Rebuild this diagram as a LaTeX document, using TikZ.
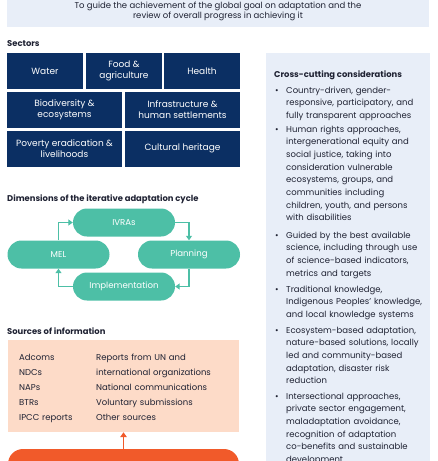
\documentclass[tikz,border=0pt]{standalone}
\usepackage{fontspec}
\setmainfont{Poppins}
\usepackage{tikz}
\usetikzlibrary{arrows.meta,positioning}
\tikzset{>=stealth}

\definecolor{paleblue}{HTML}{E8EEF8}
\definecolor{navy}{HTML}{0B2F63}
\definecolor{cycleteal}{HTML}{4DBFA6}
\definecolor{peach}{HTML}{FDDBC8}
\definecolor{flame}{HTML}{F15A2A}
\definecolor{ink}{HTML}{1F2233}

\tikzset{
  heading/.style={anchor=base west, inner sep=0pt, text=ink, font=\bfseries\fontsize{8.4}{10}\selectfont},
  body/.style={inner sep=0pt, text=ink, font=\fontsize{8.5}{12.7}\selectfont},
  sector/.style={fill=navy, text=white, inner sep=0pt, align=center, minimum height=36pt, font=\fontsize{9}{10.8}\selectfont},
  pill/.style={fill=cycleteal, text=white, inner sep=0pt, rounded corners=14pt, minimum width=102pt, minimum height=28pt, font=\fontsize{8.6}{10}\selectfont},
  cyclearrow/.style={draw=cycleteal, line width=1.2pt, -{Triangle[length=4.5pt,width=6pt]}},
  srcarrow/.style={draw=flame, line width=1.5pt, -{Triangle[length=5pt,width=6.5pt]}},
}

\begin{document}
\begin{tikzpicture}[x=1pt,y=-1pt]
  \useasboundingbox (0,0) rectangle (437,461);
  \clip (0,0) rectangle (437,461);

  % purpose banner
  \node[fill=paleblue, minimum width=422pt, minimum height=32pt, inner sep=0pt, align=center, text=ink, font=\fontsize{8.5}{10.2}\selectfont] (purpose) at (218,11)
    {To guide the achievement of the global goal on adaptation and the\\review of overall progress in achieving it};

  % sectors
  \node[heading] (sectorshead) at (7,46) {Sectors};
  \node[sector, minimum width=76pt] (water) at (45,71) {Water};
  \node[sector, minimum width=76pt] (food) at (124,71) {Food \&\\agriculture};
  \node[sector, minimum width=76pt] (health) at (202,71) {Health};
  \node[sector, minimum width=115pt] (biodiv) at (64.5,110) {Biodiversity \&\\ecosystems};
  \node[sector, minimum width=115pt] (infra) at (182.5,110) {Infrastructure \&\\human settlements};
  \node[sector, minimum width=115pt] (poverty) at (64.5,148.5) {Poverty eradication \&\\livelihoods};
  \node[sector, minimum width=115pt] (culture) at (182.5,148.5) {Cultural heritage};

  % iterative cycle
  \node[heading] (cyclehead) at (7,201) {Dimensions of the iterative adaptation cycle};
  \node[pill] (ivras) at (124,222.5) {IVRAs};
  \node[pill] (mel) at (58.5,254.5) {MEL};
  \node[pill] (planning) at (189,254.5) {Planning};
  \node[pill] (impl) at (124,286.5) {Implementation};
  \draw[cyclearrow] (ivras.east) -| (planning.north);
  \draw[cyclearrow] (planning.south) |- (impl.east);
  \draw[cyclearrow] (impl.west) -| (mel.south);
  \draw[cyclearrow] (mel.north) |- (ivras.west);

  % sources of information
  \node[heading] (sourceshead) at (7,334) {Sources of information};
  \node[fill=peach, minimum width=231pt, minimum height=92pt, inner sep=0pt] (sources) at (123.5,386) {};
  \node[body, anchor=base west, text width=70pt, font=\fontsize{8.5}{15}\selectfont] (srcleft) at (19,360)
    {Adcoms\\NDCs\\NAPs\\BTRs\\IPCC reports};
  \node[body, anchor=base west, text width=140pt, font=\fontsize{8.5}{15}\selectfont] (srcright) at (96,360)
    {Reports from UN and\\international organizations\\National communications\\Voluntary submissions\\Other sources};
  \node[fill=flame, rounded corners=15pt, minimum width=231pt, minimum height=40pt, inner sep=0pt] (report) at (123.5,469) {};
  \draw[srcarrow] (report.north) -- (sources.south);

  % cross-cutting considerations
  \node[fill=paleblue, minimum width=164pt, minimum height=417pt, inner sep=0pt] (crosspanel) at (348,261.5) {};
  \node[heading] (crosshead) at (274,77) {Cross-cutting considerations};
  \foreach \y/\txt [count=\i] in {
    93/{Country-driven, gender-\\responsive, participatory, and\\fully transparent approaches},
    132/{Human rights approaches,\\intergenerational equity and\\social justice, taking into\\consideration vulnerable\\ecosystems, groups, and\\communities including\\children, youth, and persons\\with disabilities},
    238/{Guided by the best available\\science, including through use\\of science-based indicators,\\metrics and targets},
    292/{Traditional knowledge,\\Indigenous Peoples' knowledge,\\and local knowledge systems},
    333/{Ecosystem-based adaptation,\\nature-based solutions, locally\\led and community-based\\adaptation, disaster risk\\reduction},
    399/{Intersectional approaches,\\private sector engagement,\\maladaptation avoidance,\\recognition of adaptation\\co-benefits and sustainable\\development}
  } {
    \node[body, anchor=base west] (dot\i) at (275,\y) {\textbullet};
    \node[body, anchor=base west, text width=150pt] (item\i) at (286,\y) {\txt};
  }
\end{tikzpicture}
\end{document}
